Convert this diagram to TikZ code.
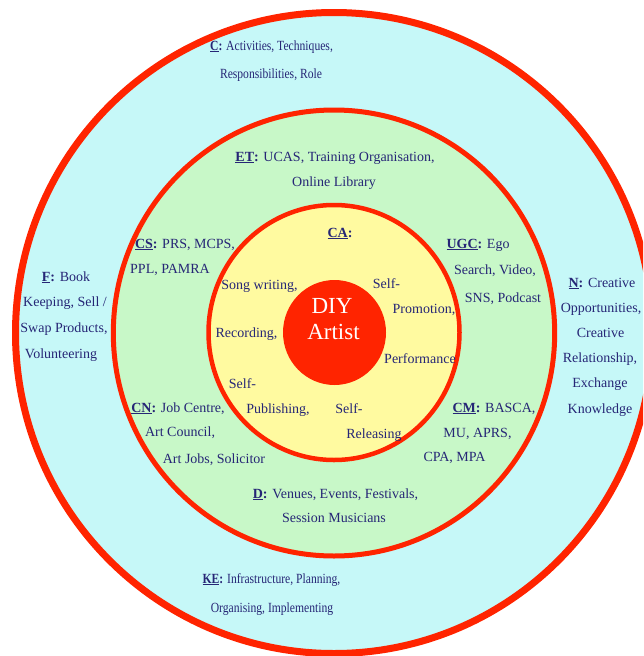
\documentclass[tikz,border=0pt]{standalone}
\usepackage{fontspec}
\setmainfont{Liberation Serif}
\definecolor{ringred}{RGB}{255,36,0}
\definecolor{outerfill}{RGB}{198,248,248}
\definecolor{midfill}{RGB}{200,248,200}
\definecolor{innerfill}{RGB}{255,250,160}
\definecolor{labelblue}{RGB}{38,38,118}
\newcommand{\ringkey}[1]{\textbf{\underline{#1}:}}
\tikzset{
  lbl/.style={anchor=base, inner sep=0pt, text=labelblue,
    font=\fontsize{14}{16}\selectfont},
  narrowlbl/.style={lbl,
    font=\fontsize{14}{16}\selectfont\addfontfeature{FakeStretch=0.83}},
  core/.style={anchor=base, inner sep=0pt, text=white,
    font=\fontsize{23}{26}\selectfont},
  ring/.style={draw=ringred}
}
\begin{document}
\begin{tikzpicture}[x=1pt,y=-1pt]
\useasboundingbox (0,0) rectangle (643,656);
\clip (0,0) rectangle (643,656);
% concentric rings
\filldraw[ring, fill=outerfill, line width=7pt] (334,333) ellipse [x radius=318.5, y radius=320.5];
\filldraw[ring, fill=midfill, line width=5pt] (334,333) ellipse [x radius=220.7, y radius=223];
\filldraw[ring, fill=innerfill, line width=4.5pt] (334,332.5) ellipse [x radius=125.5, y radius=127.5];
\fill[ringred] (334.5,332.5) ellipse [x radius=51.5, y radius=52.5];
% centre
\node[core] (diy) at (332,313) {DIY};
\node[core] (artist) at (333.5,339) {Artist};
% outer ring
\node[narrowlbl] (c1) at (271.5,50) {\ringkey{C} Activities, Techniques,};
\node[narrowlbl] (c2) at (271,78) {Responsibilities, Role};
\node[narrowlbl] (ke1) at (271.5,583) {\ringkey{KE} Infrastructure, Planning,};
\node[narrowlbl] (ke2) at (272,612) {Organising, Implementing};
\node[lbl] (f1) at (66,281) {\ringkey{F} Book};
\node[lbl] (f2) at (65,306) {Keeping, Sell /};
\node[lbl] (f3) at (64,332) {Swap Products,};
\node[lbl] (f4) at (61,358) {Volunteering};
\node[lbl] (n1) at (602,287) {\ringkey{N} Creative};
\node[lbl] (n2) at (601,312) {Opportunities,};
\node[lbl] (n3) at (600.5,337) {Creative};
\node[lbl] (n4) at (600,362) {Relationship,};
\node[lbl] (n5) at (600,387) {Exchange};
\node[lbl] (n6) at (600,413) {Knowledge};
% middle ring
\node[lbl] (et1) at (335,161) {\ringkey{ET} UCAS, Training Organisation,};
\node[lbl] (et2) at (334,186) {Online Library};
\node[lbl] (cs1) at (185,248) {\ringkey{CS} PRS, MCPS,};
\node[lbl] (cs2) at (170,273) {PPL, PAMRA};
\node[lbl] (ugc1) at (478,248) {\ringkey{UGC} Ego};
\node[lbl] (ugc2) at (495,274) {Search, Video,};
\node[lbl] (ugc3) at (503,302) {SNS, Podcast};
\node[lbl] (cn1) at (178,412) {\ringkey{CN} Job Centre,};
\node[lbl] (cn2) at (180,436) {Art Council,};
\node[lbl] (cn3) at (214,463) {Art Jobs, Solicitor};
\node[lbl] (cm1) at (494,412) {\ringkey{CM} BASCA,};
\node[lbl] (cm2) at (477.5,437) {MU, APRS,};
\node[lbl] (cm3) at (454.5,461) {CPA, MPA};
\node[lbl] (d1) at (335.5,498) {\ringkey{D} Venues, Events, Festivals,};
\node[lbl] (d2) at (334,522) {Session Musicians};
% inner ring
\node[lbl] (ca) at (340,237) {\textbf{\underline{CA}:}};
\node[lbl] (song) at (259.5,289) {Song writing,};
\node[lbl] (selfa) at (386.5,288) {Self-};
\node[lbl] (promo) at (424,313) {Promotion,};
\node[lbl] (rec) at (246.5,337) {Recording,};
\node[lbl] (perf) at (420,363) {Performance};
\node[lbl] (selfb) at (242.5,388) {Self-};
\node[lbl] (pub) at (278,413) {Publishing,};
\node[lbl] (selfc) at (349,413) {Self-};
\node[lbl] (rel) at (374,438) {Releasing};
\end{tikzpicture}
\end{document}
